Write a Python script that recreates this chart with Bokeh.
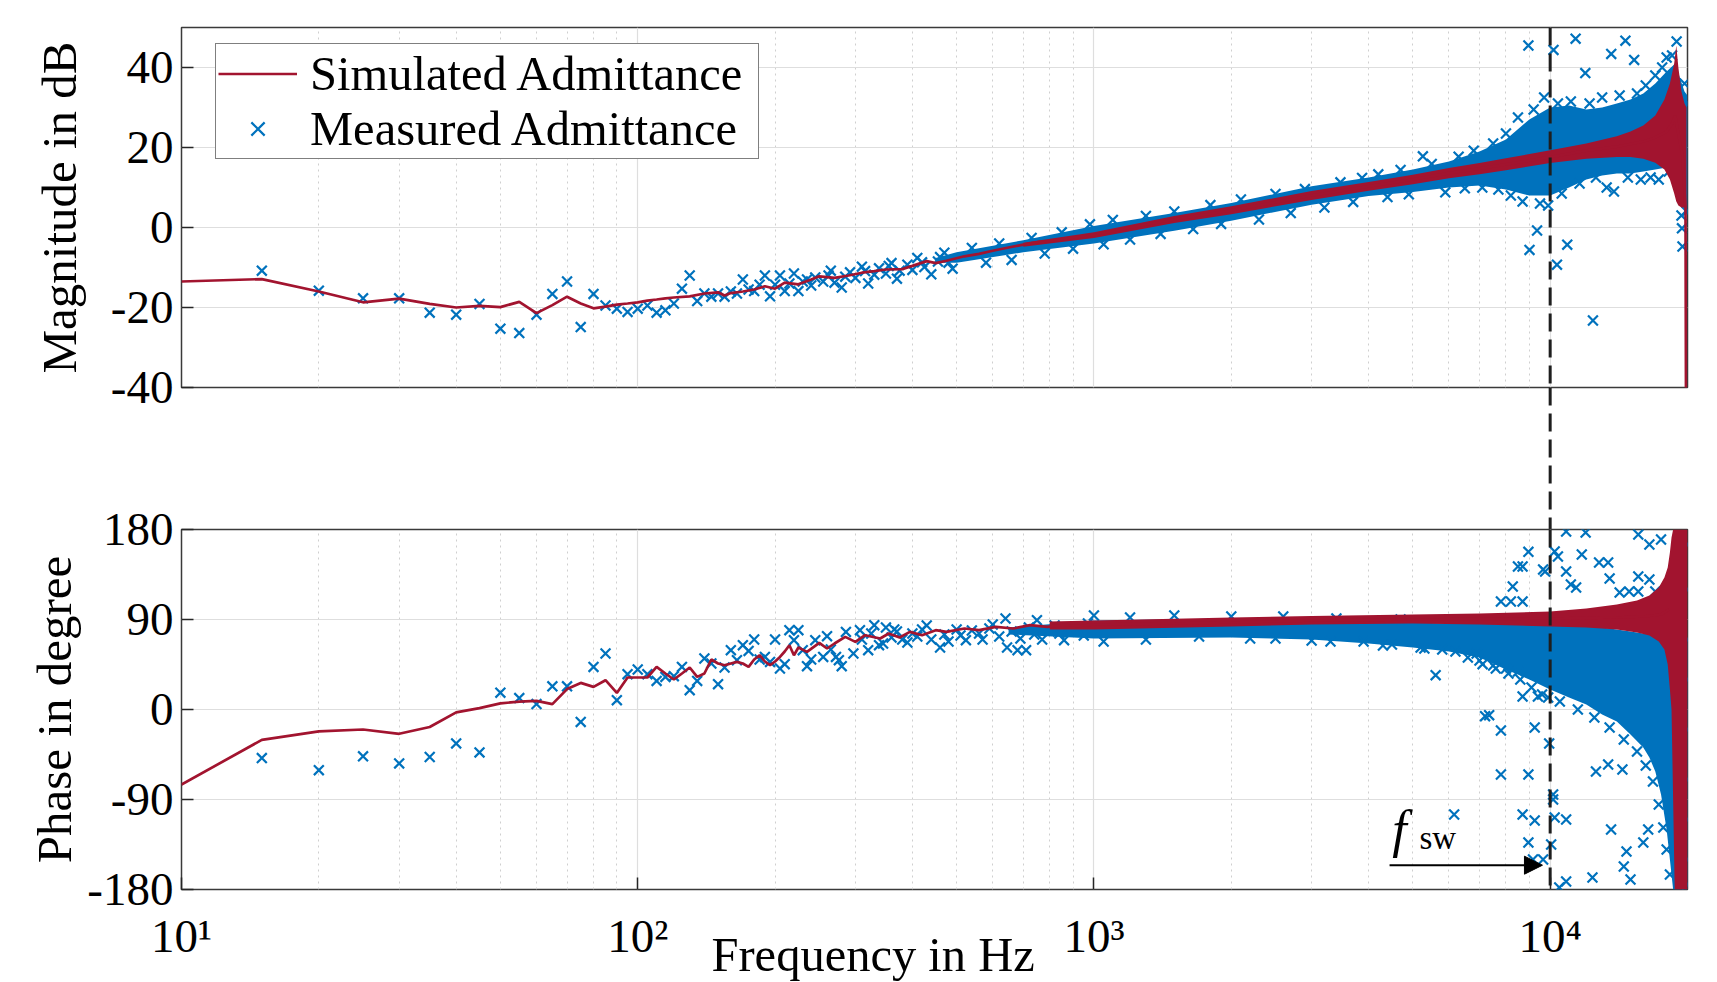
from bokeh.plotting import figure
from bokeh.layouts import column
from bokeh.models import (Span, Legend, LegendItem, FixedTicker, Arrow, NormalHead,
                          Label, Title, CustomJSTickFormatter)
from bokeh.embed import file_html
from bokeh.resources import INLINE

# ---------------- data ----------------
x_ticks = [10, 100, 1000, 10000]
x_tick_labels = ["10\u00b9", "10\u00b2", "10\u00b3", "10\u2074"]
mag_ticks = [-40, -20, 0, 20, 40]
mag_tick_labels = ["-40", "-20", "0", "20", "40"]
phase_ticks = [-180, -90, 0, 90, 180]
phase_tick_labels = ["-180", "-90", "0", "90", "180"]
f_sw = 10000

# simulated magnitude (line)
sim_mag_f = [10, 15, 20, 25, 30, 35, 40, 45, 50, 55, 60, 65, 70, 75, 80, 85, 90, 95, 100, 105,
             110, 115, 120, 130, 140, 150, 155, 160, 170, 180, 190, 200, 210, 225, 240, 250, 270, 290, 310, 330,
             350, 380, 400, 430, 450, 475, 520, 560, 600, 650, 700, 760, 800, 870, 930, 1000, 1200, 1500, 2000, 2500,
             3000, 4000, 5000, 6000, 7000, 8000, 10000, 12000, 14000, 16000, 17000, 18000, 18500, 18800, 19200, 19500,
             19800, 19850]
sim_mag_db = [-13.5, -12.9, -16.0, -18.7, -17.8, -19.1, -20.0, -19.6, -19.9, -18.6, -21.4, -19.4, -17.3, -19.0, -20.2,
              -19.8, -19.3, -19.0, -18.7, -18.3, -18.0, -17.7, -17.5, -17.2, -16.5, -16.2, -17.0, -16.4, -16.0, -15.5,
              -14.7, -15.3, -13.8, -14.2, -13.0, -12.2, -12.6, -12.0, -11.3, -10.9, -10.5, -10.4, -9.6, -8.4, -8.9,
              -8.3, -7.2, -6.6, -5.8, -5.0, -4.3, -3.6, -3.4, -2.8, -2.3, -1.9, 0.0, 2.0, 4.3, 6.3, 8.0, 10.3, 12.0,
              13.6, 14.7, 15.8, 17.6, 19.2, 20.2, 21.5, 22.5, 24.0, 26.0, 28.0, 22.0, 18.0, 5.0, -45.0]

# simulated magnitude: envelope of the dense oscillating band
sim_band_f = [700, 1000, 1500, 2000, 3000, 4000, 5000, 6000, 7000, 8000, 10000, 12000, 14000, 15000, 16000,
              17000, 17800, 18300, 18700, 18900, 19100, 19400, 19700, 19900]
sim_band_lo = [-4.8, -2.6, 1.1, 3.3, 6.9, 9.2, 10.8, 12.3, 13.3, 14.3, 16.1, 17.2, 17.6, 17.6, 17.2, 16.2, 14.5,
               12.0, 8.5, 6.5, 5.5, 5.0, 5.0, 5.0]
sim_band_hi = [-3.8, -1.2, 2.9, 5.3, 9.1, 11.4, 13.2, 14.9, 16.1, 17.3, 19.3, 21.0, 22.8, 24.0, 25.5, 28.0, 32.0,
               36.0, 41.0, 45.5, 40.0, 34.0, 31.0, 30.0]

# measured magnitude: envelope of the dense cloud of markers
meas_band_f = [450, 500, 700, 1000, 1500, 2000, 3000, 4000, 5000, 6000, 7000, 8000, 9000, 10000, 11000,
               12000, 13000, 14000, 15000, 16000, 17000, 18000, 18800, 19300, 19700, 20000]
meas_band_lo = [-8.8, -8.8, -6.2, -4.0, -0.8, 1.7, 5.7, 7.9, 8.9, 10.0, 10.5, 9.5, 8.0, 8.0, 10.0,
                12.0, 13.0, 13.5, 13.5, 14.0, 14.5, 15.0, 14.0, 8.0, 4.0, 3.0]
meas_band_hi = [-7.6, -6.2, -3.2, 0.4, 3.6, 6.1, 10.3, 12.5, 14.5, 16.5, 19.0, 22.0, 27.0, 30.0, 30.5,
                29.5, 30.0, 31.0, 32.0, 33.5, 36.0, 39.0, 41.0, 37.0, 34.0, 33.0]

# measured magnitude: individual markers (frequency in Hz, magnitude in dB)
meas_mag_points = [
    (15, -10.8), (20, -15.8), (25, -17.7), (30, -17.7), (35, -21.3), (40, -21.8), (45, -19.1), (50, -25.3),
    (55, -26.4), (60, -21.8), (65, -16.6), (70, -13.5), (75, -24.9), (80, -16.6), (85, -19.5), (90, -20.3),
    (95, -21.1), (100, -20.3), (105, -19.5), (110, -21.3), (115, -20.7), (120, -19.0), (125, -15.3), (130, -12.0),
    (135, -18.4), (140, -16.5), (145, -17.3), (150, -16.5), (155, -17.3), (160, -16.0), (165, -16.5),
    (170, -13.0), (175, -15.5), (180, -15.9), (185, -14.3), (190, -12.0), (195, -17.2), (200, -14.3),
    (205, -12.0), (210, -15.9), (215, -14.0), (220, -11.5), (225, -15.9), (230, -13.5), (235, -13.0),
    (240, -14.5), (245, -12.5), (255, -13.5), (262, -12.0), (265, -10.8), (270, -13.8), (280, -15.0),
    (285, -12.3), (292, -11.2), (300, -12.6), (310, -9.8), (315, -10.9), (320, -14.0), (330, -11.8),
    (338, -10.2), (350, -11.5), (355, -9.6), (360, -8.9), (370, -12.8), (375, -10.8), (390, -9.3),
    (400, -10.6), (410, -7.6), (420, -8.7), (425, -9.9), (440, -11.7), (455, -8.5), (460, -7.4), (470, -6.3),
    (480, -8.8), (490, -10.3), (540, -5.1), (580, -8.8), (620, -4.0), (660, -8.1), (730, -2.6), (780, -6.5),
    (850, -1.2), (900, -5.3), (980, 0.8), (1050, -4.2), (1100, 1.9), (1200, -3.0), (1300, 2.9), (1400, -1.6),
    (1500, 4.0), (1650, -0.4), (1800, 5.6), (1900, 0.9), (2100, 7.0), (2300, 2.0), (2500, 8.4), (2700, 3.6),
    (2900, 9.6), (3200, 5.0), (3470, 11.3), (3870, 12.4), (3700, 6.4), (4200, 13.3), (4400, 7.6),
    (4700, 14.4), (4900, 8.3), (5260, 17.8), (5500, 15.9), (5890, 8.8), (6300, 17.7), (6500, 9.8),
    (6800, 19.2), (7100, 10.0), (7500, 21.0), (7700, 9.5), (8000, 23.5), (8200, 8.0), (8500, 27.5),
    (8700, 6.5), (8960, 45.5), (9010, -5.6), (9200, 29.5), (9360, -0.75), (9500, 6.0), (9700, 32.5),
    (9900, 5.5), (10170, 44.4), (10350, -9.3), (10400, 31.0), (10600, 8.5), (10900, -4.3), (11100, 31.5),
    (11370, 47.2), (11600, 11.0), (11940, 38.6), (12200, 31.0), (12410, -23.25), (12600, 12.5), (13000, 32.5),
    (13300, 10.0), (13610, 43.4), (13800, 9.0), (14200, 33.0), (14620, 46.7), (14800, 12.5), (15280, 41.9),
    (15500, 33.5), (15800, 12.0), (16200, 35.5), (16600, 12.5), (17000, 38.0), (17300, 12.0), (17600, 40.0),
    (18000, 42.5), (18200, 14.0), (18500, 43.0), (18930, 46.5), (19100, 12.0), (19400, 3.0), (19450, -0.2),
    (19500, -4.75), (19700, 36.0), (19900, 31.0), (19900, 4.0)]

# simulated phase (line)
sim_ph_f = [10, 15, 20, 25, 30, 35, 40, 45, 50, 55, 60, 65, 70, 75, 80, 85, 90, 95, 100,
            105, 110, 115, 120, 125, 130, 135, 140, 145, 150, 155, 160, 165, 170, 175, 180, 185, 190, 195, 200,
            205, 210, 215, 220, 225,
            235, 250, 260, 270, 285, 300, 315, 340, 355, 375, 395, 420, 450, 475, 520, 560, 610, 665, 725, 790,
            860, 930, 1000, 1500, 2000, 3000, 5000, 7000, 10000, 14000, 16000, 17500, 18200]
sim_ph_deg = [-75, -30.4, -21.8, -20, -24.3, -17.5, -2.9, 1.4, 6.1, 7.9, 8.6, 5.4, 20.4, 26.6, 22.6, 29.3, 16.6,
              32, 32,
              32, 42.6, 36, 30, 36, 42, 32.6, 36, 50, 46, 44.3, 46, 47.6, 46, 42.6, 50, 54.3, 48, 44.3, 48, 52.6,
              58, 64.3, 54.3, 62,
              57.6, 66.6, 61, 66, 72.6, 67.6, 74.3, 71, 76, 72, 77.6, 74.3, 79.3, 77.6, 81, 79.3, 82.6, 81, 84.3,
              82.6, 84.3, 83.5, 85, 86, 87, 89, 90, 90.5, 91, 92, 93, 95, 100]

# simulated phase: envelope of the dense band
sim_ph_band_f = [800, 1000, 2000, 3000, 5000, 7000, 10000, 12000, 14000, 15500, 16500, 17300, 17800, 18100,
                 18300, 18450, 18600, 18750, 20000]
sim_ph_band_lo = [80, 80, 83, 85, 86, 85, 83, 82, 80, 77, 74, 68, 60, 45, 20, 0, -90, -180, -180]
sim_ph_band_hi = [88, 89, 92, 93.5, 95, 96, 98, 101, 105, 109, 114, 122, 132, 142, 157, 172, 180, 180, 180]

# measured phase: envelope of the dense cloud
meas_ph_band_f = [650, 1000, 2000, 3000, 4000, 5000, 6000, 7000, 8000, 9000, 10000, 11000, 12000,
                  13000, 14000, 15000, 16000, 16500, 17000, 17500, 18000, 18300, 18600, 20000]
meas_ph_band_lo = [75, 71, 72, 70, 66, 62, 58, 52, 40, 30, 20, 12, 5, -5, -12, -25, -38, -48, -62, -85,
                   -120, -150, -180, -180]
meas_ph_band_hi = [82, 89, 91, 89, 88, 87, 86, 86, 85, 85, 85, 84, 83, 82, 80, 78, 76, 75, 74, 73, 72, 71,
                   70, 70]

# measured phase: individual markers (frequency in Hz, phase in degree)
meas_ph_points = [
    (15, -48.6), (20, -60.7), (25, -46.8), (30, -53.9), (35, -47.5), (40, -33.9), (45, -42.9), (50, 16.8),
    (55, 11.4), (60, 5.4), (65, 23.2), (70, 23.2), (75, -12.4), (80, 42.6), (85, 56), (90, 9.3), (95, 35.3),
    (100, 40), (105, 35.3), (110, 28.6), (115, 32.6), (120, 33.3), (125, 42.6), (130, 19.3), (135, 28.6),
    (140, 51), (145, 46), (150, 25.3), (155, 42), (160, 59.3), (165, 49.3), (170, 64.3), (175, 58.6), (180, 70),
    (185, 50), (190, 52.6), (195, 47.6), (200, 70), (205, 41), (210, 45.3), (215, 79.3), (220, 69.3),
    (225, 79.3), (230, 59.3), (235, 43.3), (240, 50), (245, 69.3), (255, 52.6), (260, 73.3), (265, 60),
    (272, 52.6), (276, 49.3), (280, 43.3), (286, 77.6), (297, 56), (307, 79.3), (310, 70), (320, 59.3),
    (325, 76), (330, 84.3), (338, 64.3), (345, 66), (350, 82), (360, 72), (365, 80), (370, 78), (380, 70),
    (390, 67), (400, 76), (410, 73), (420, 80), (430, 84), (440, 70), (460, 62), (470, 75), (480, 68),
    (500, 80), (510, 74), (524, 69.3), (540, 79), (560, 76), (570, 70), (590, 81), (600, 85), (620, 73),
    (640, 91), (645, 62), (660, 78), (680, 59.3), (690, 71), (710, 59.3), (720, 82), (740, 75), (750, 89.3),
    (770, 70), (800, 78), (820, 84), (840, 76), (860, 69.3), (880, 79), (920, 82), (950, 74), (970, 86),
    (1000, 94), (1050, 68), (1200, 92), (1300, 70), (1500, 94), (1700, 73), (2000, 93), (2200, 71),
    (2600, 93), (3000, 69), (3400, 91), (3900, 68), (4300, 64), (4700, 90), (5200, 62), (5300, 61),
    (5610, 34.3), (6200, 58), (6900, 56), (7110, 45.3), (7350, -5.7), (7600, 41),
    (7800, 108), (8200, 108), (8280, 123), (8500, 143), (8700, 143), (8700, 108), (8960, 157.7), (9650, 140),
    (9750, 138), (10230, 158), (10400, 153), (10840, 178), (10840, 138), (11100, 125), (11400, 122),
    (11730, 155), (11960, 177), (12800, 147), (13400, 147), (13500, 131), (14200, 117), (14900, 118),
    (15600, 175), (15600, 133), (15600, 118), (16500, 165), (16500, 130), (17000, 118), (17500, 170),
    (8000, 41), (8500, 38), (8700, 13), (9400, 13), (9900, 12), (7200, -6.7), (7800, -21), (9250, -18),
    (7800, -65), (8960, -65), (9950, -34), (6160, -105), (8700, -105), (9250, -111), (8960, -133),
    (9170, -150), (9650, -150), (10150, -85), (10150, -90), (10230, -108), (10840, -110), (10050, -135),
    (10470, -178), (10840, -172), (12380, -168), (12600, -62), (13400, -55), (14400, -60), (14700, -142),
    (14500, -157), (15000, -170), (16000, -133), (16400, -120), (13600, -120),
    (2500, 71), (3300, 68), (4500, 65), (5800, 60), (6600, 52), (7000, 49), (7500, 44), (8100, 36),
    (8600, 30), (9100, 22), (9600, 15), (10500, 8), (11500, 0), (12500, -8), (13500, -18), (14500, -30),
    (15500, -42), (16200, -56), (16800, -72), (17300, -95), (17700, -118), (18000, -140), (18300, -165),
    (19950, 165), (19950, 120), (19950, 70), (19950, 30), (19950, -20), (19950, -70), (19950, -110),
    (19950, -150), (19950, -175)]

meas_mag_f = [p[0] for p in meas_mag_points]
meas_mag_db = [p[1] for p in meas_mag_points]
meas_ph_f = [p[0] for p in meas_ph_points]
meas_ph_deg = [p[1] for p in meas_ph_points]

# ---------------- style ----------------
W = 1717
FONT = "Liberation Serif"
BLUE = "#0072BD"
RED = "#A2142F"
GRID = "#dedede"
MINOR_GRID = "#cfcfcf"
minor_ticks = [m * 10 ** k for k in range(1, 5) for m in range(2, 10) if m * 10 ** k <= 20000]
LEFT, RIGHT = 181, 30
EDGE = 26  # room for the tick labels that sit on the frame edge

LABEL_JS = """
for (let i = 0; i < t.length; i++) { if (Math.abs(t[i] - tick) <= 1e-6 * Math.max(1, Math.abs(t[i]))) return l[i]; }
return '';
"""


def style_panel(p, ticks, tick_labels, ylabel, standoff):
    p.outline_line_color = "#3a3a3a"
    p.outline_line_width = 1.5
    p.background_fill_color = "white"
    p.xgrid.ticker = FixedTicker(ticks=x_ticks, minor_ticks=minor_ticks)
    p.xgrid.grid_line_color = GRID
    p.xgrid.grid_line_width = 1.2
    p.xgrid.minor_grid_line_color = MINOR_GRID
    p.xgrid.minor_grid_line_dash = "2 4"
    p.xgrid.minor_grid_line_width = 1
    ya = p.yaxis[0]
    ya.ticker = FixedTicker(ticks=ticks)
    ya.formatter = CustomJSTickFormatter(args=dict(t=ticks, l=tick_labels), code=LABEL_JS)
    ya.axis_label = ylabel
    ya.axis_label_standoff = standoff
    ya.major_label_standoff = 8
    p.ygrid.grid_line_color = GRID
    p.ygrid.grid_line_width = 1.2
    for ax in p.yaxis + p.xaxis:
        ax.major_label_text_font = FONT
        ax.major_label_text_font_size = "47px"
        ax.major_label_text_color = "black"
        ax.axis_label_text_font = FONT
        ax.axis_label_text_font_size = "49px"
        ax.axis_label_text_font_style = "normal"
        ax.axis_label_text_color = "black"
        ax.axis_line_color = None
        ax.major_tick_in = 12
        ax.major_tick_out = 0
        ax.major_tick_line_color = "#262626"
        ax.major_tick_line_width = 1.5
        ax.minor_tick_line_color = None


def fsw_span():
    return Span(location=f_sw, dimension="height", line_color="#1e1e1e", line_width=3, line_dash="18 8")


# ---------------- magnitude panel ----------------
top = figure(width=W, height=387 + EDGE, x_axis_type="log", x_range=(10, 20000), y_range=(-40, 50),
             output_backend="svg", toolbar_location=None, x_axis_location=None,
             min_border_left=LEFT, min_border_right=RIGHT, min_border_top=27, min_border_bottom=EDGE)
style_panel(top, mag_ticks, mag_tick_labels, "Magnitude in dB", 21)

top.varea(x=meas_band_f, y1=meas_band_lo, y2=meas_band_hi, fill_color=BLUE)
r_meas = top.scatter(meas_mag_f, meas_mag_db, marker="x", size=14, line_color=BLUE, line_width=2.2)
top.varea(x=sim_band_f, y1=sim_band_lo, y2=sim_band_hi, fill_color=RED)
r_sim = top.line(sim_mag_f, sim_mag_db, line_color=RED, line_width=2.7)
top.add_layout(fsw_span())

legend = Legend(items=[LegendItem(label="Simulated Admittance", renderers=[r_sim]),
                       LegendItem(label="Measured Admittance", renderers=[r_meas])],
                location=(34, 228), orientation="vertical")
legend.label_text_font = FONT
legend.label_text_font_size = "48.5px"
legend.label_text_color = "black"
legend.border_line_color = "black"
legend.border_line_width = 1.5
legend.background_fill_color = "white"
legend.background_fill_alpha = 1.0
legend.padding = 2
legend.spacing = 0
legend.margin = 0
legend.glyph_width = 79
legend.glyph_height = 47
legend.label_height = 47
legend.label_width = 446
legend.label_standoff = 13
top.add_layout(legend)

# ---------------- gap: the dashed f_sw line continues (transparent, overlaps neighbours) ----------------
mid = figure(width=W, height=142, x_axis_type="log", x_range=top.x_range, y_range=(0, 1),
             output_backend="svg", toolbar_location=None, x_axis_location=None, y_axis_location=None,
             min_border_left=LEFT, min_border_right=RIGHT, min_border_top=0, min_border_bottom=0)
mid.grid.visible = False
mid.outline_line_color = None
mid.background_fill_color = None
mid.border_fill_color = None
mid.margin = (-EDGE, 0, -EDGE, 0)
mid.add_layout(fsw_span())

# ---------------- phase panel ----------------
bot = figure(width=W, height=EDGE + 360 + 93, x_axis_type="log", x_range=top.x_range, y_range=(-180, 180),
             output_backend="svg", toolbar_location=None,
             min_border_left=LEFT, min_border_right=RIGHT, min_border_top=EDGE, min_border_bottom=93)
style_panel(bot, phase_ticks, phase_tick_labels, "Phase in degree", 2)
bot.border_fill_color = None
xa = bot.xaxis[0]
xa.ticker = FixedTicker(ticks=x_ticks, minor_ticks=minor_ticks)
xa.formatter = CustomJSTickFormatter(args=dict(t=x_ticks, l=x_tick_labels), code=LABEL_JS)
xa.major_label_standoff = 16

bot.varea(x=meas_ph_band_f, y1=meas_ph_band_lo, y2=meas_ph_band_hi, fill_color=BLUE)
bot.scatter(meas_ph_f, meas_ph_deg, marker="x", size=14, line_color=BLUE, line_width=2.2)
bot.varea(x=sim_ph_band_f, y1=sim_ph_band_lo, y2=sim_ph_band_hi, fill_color=RED)
bot.line(sim_ph_f, sim_ph_deg, line_color=RED, line_width=2.7)
bot.add_layout(fsw_span())

bot.add_layout(Arrow(end=NormalHead(size=18, fill_color="black", line_color="black"),
                     x_start=4446, y_start=-155.7, x_end=9619, y_end=-155.7,
                     line_color="black", line_width=2))
bot.add_layout(Label(x=4508, y=-120, text="f", text_font=FONT, text_font_style="italic",
                     text_font_size="52px", text_color="black", text_baseline="alphabetic"))
bot.add_layout(Label(x=5171, y=-128.7, text="sw", text_font=FONT, text_font_size="33px",
                     text_color="black", text_baseline="alphabetic"))

xlabel = Title(text="Frequency in Hz", align="left", offset=530, standoff=-74, vertical_align="top",
               text_font=FONT, text_font_size="48.5px", text_font_style="normal", text_color="black")
bot.add_layout(xlabel, "below")

layout = column(top, mid, bot, spacing=0)
open("out.html", "w").write(file_html(layout, INLINE, title="Admittance"))
